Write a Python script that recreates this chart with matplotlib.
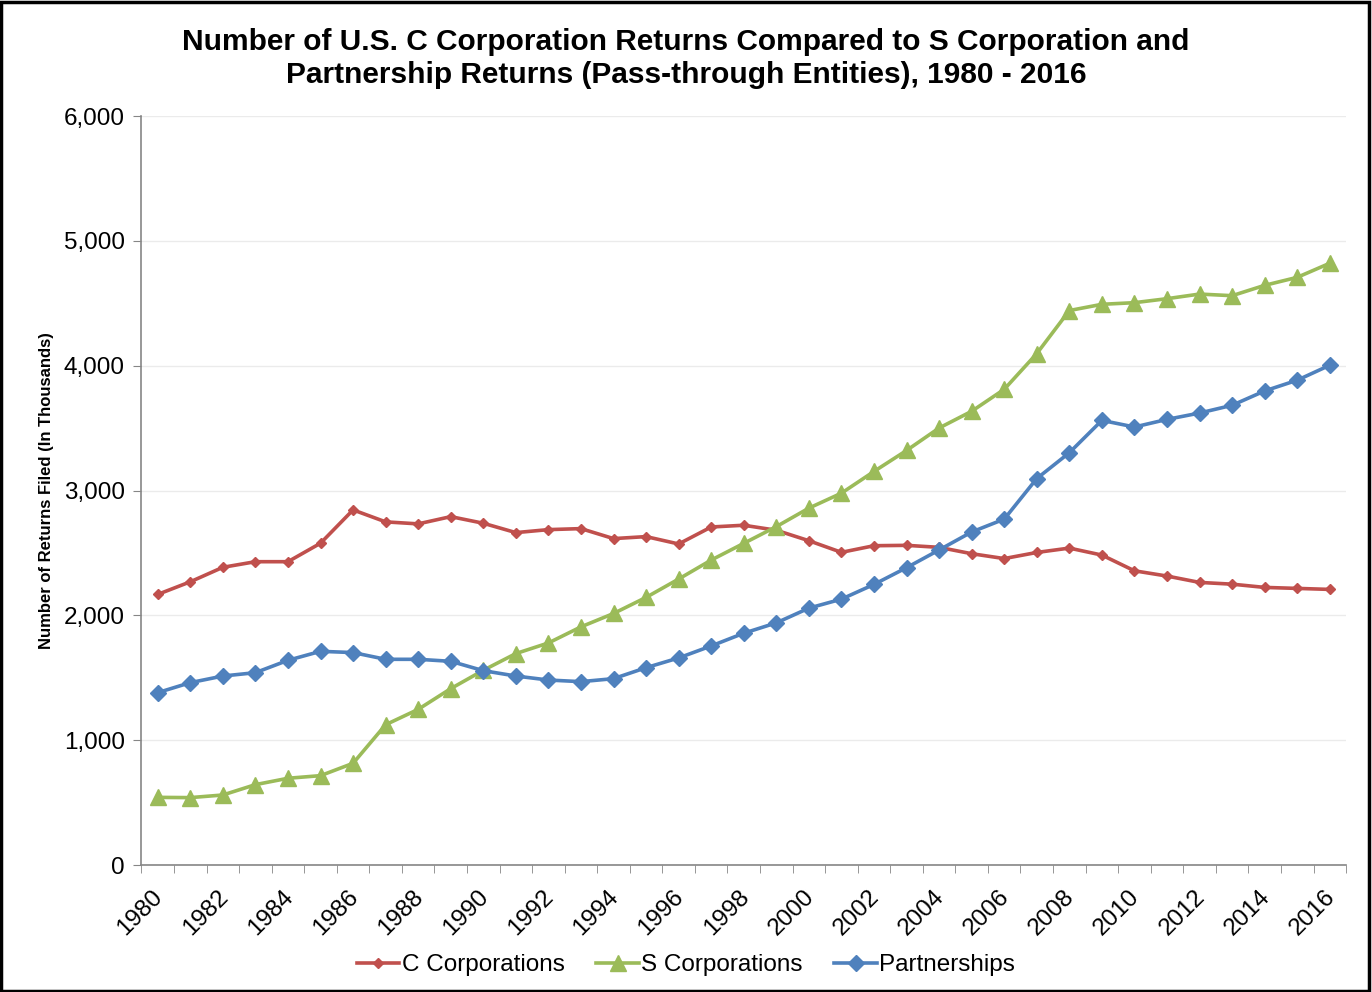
import matplotlib
matplotlib.use("Agg")
import matplotlib.pyplot as plt
from matplotlib.patches import Rectangle
from matplotlib.ticker import FuncFormatter, FixedLocator
from matplotlib.transforms import ScaledTranslation

plt.rcParams['font.family'] = ['Liberation Sans', 'DejaVu Sans']

years = list(range(1980, 2017))
c_corp = [2168, 2269, 2385, 2430, 2430, 2578, 2845, 2749, 2733, 2791,
          2738, 2663, 2687, 2695, 2615, 2631, 2572, 2708, 2722, 2682,
          2598, 2505, 2558, 2561, 2545, 2494, 2455, 2504, 2539, 2483,
          2357, 2315, 2264, 2250, 2224, 2216, 2208]
s_corp = [542, 540, 561, 644, 695, 716, 815, 1124, 1247, 1413,
          1560, 1694, 1779, 1908, 2015, 2144, 2291, 2443, 2577, 2711,
          2859, 2979, 3153, 3321, 3501, 3635, 3811, 4097, 4442, 4492,
          4505, 4537, 4574, 4561, 4644, 4708, 4821]
partner = [1381, 1461, 1514, 1541, 1640, 1712, 1702, 1648, 1648, 1632,
           1557, 1514, 1482, 1469, 1493, 1581, 1659, 1755, 1857, 1940,
           2058, 2130, 2248, 2382, 2524, 2668, 2771, 3096, 3303, 3562,
           3509, 3570, 3621, 3683, 3798, 3884, 4004]

title = ("Number of U.S. C Corporation Returns Compared to S Corporation and\n"
         "Partnership Returns (Pass-through Entities), 1980 - 2016")
ylabel = "Number of Returns Filed (In Thousands)"

fig = plt.figure(figsize=(13.72, 9.92), dpi=100)
ax = fig.add_axes([0.1031, 0.128, 0.878, 0.755])

x = list(range(len(years)))
ax.plot(x, c_corp, color='#C0504D', lw=2.6, marker='D', ms=5.5,
        label='C Corporations', zorder=3)
ax.plot(x, s_corp, color='#9BBB59', lw=2.6, marker='^', ms=11,
        label='S Corporations', zorder=3)
ax.plot(x, partner, color='#4F81BD', lw=2.6, marker='D', ms=8,
        label='Partnerships', zorder=3)

ax.set_xlim(-0.5, len(years) - 0.5)
ax.set_ylim(0, 6000)
ax.set_yticks(range(0, 6001, 1000))
ax.yaxis.set_major_formatter(FuncFormatter(lambda v, p: f"{int(v):,}"))
ax.grid(axis='y', color='#EBEBEB', lw=1, zorder=0)
ax.set_axisbelow(True)

label_pos = [i for i, y in enumerate(years) if y % 2 == 0]
ax.set_xticks(label_pos)
ax.set_xticklabels([str(years[i]) for i in label_pos], rotation=45,
                   ha='right', rotation_mode='anchor', fontsize=17.5)
ax.tick_params(axis='x', which='major', length=0, pad=15)
offset = ScaledTranslation(-0.06, 0, fig.dpi_scale_trans)
for lab in ax.get_xticklabels():
    lab.set_transform(lab.get_transform() + offset)
ax.xaxis.set_minor_locator(FixedLocator([i - 0.5 for i in range(len(years) + 1)]))
ax.tick_params(axis='x', which='minor', length=6, color='#868686', direction='out')
ax.tick_params(axis='y', length=6, color='#868686', labelsize=17.5, pad=6)

for s in ['top', 'right']:
    ax.spines[s].set_visible(False)
for s in ['left', 'bottom']:
    ax.spines[s].set_color('#868686')
    ax.spines[s].set_linewidth(1.2)

ax.set_ylabel(ylabel, fontsize=12, fontweight='bold', labelpad=7)
fig.text(0.5, 0.972, title, ha='center', va='top', fontsize=21.5,
         fontweight='bold', linespacing=1.25)

fig.legend(loc='center', bbox_to_anchor=(0.5, 0.027), ncol=3, frameon=False,
           fontsize=17.5, handlelength=1.75, handletextpad=0.1, columnspacing=1.3)

fig.patches.append(Rectangle((0.001, 0.001), 0.997, 0.997, transform=fig.transFigure,
                             fill=False, edgecolor='black', lw=2.5))

fig.savefig('out.png', dpi=100)
